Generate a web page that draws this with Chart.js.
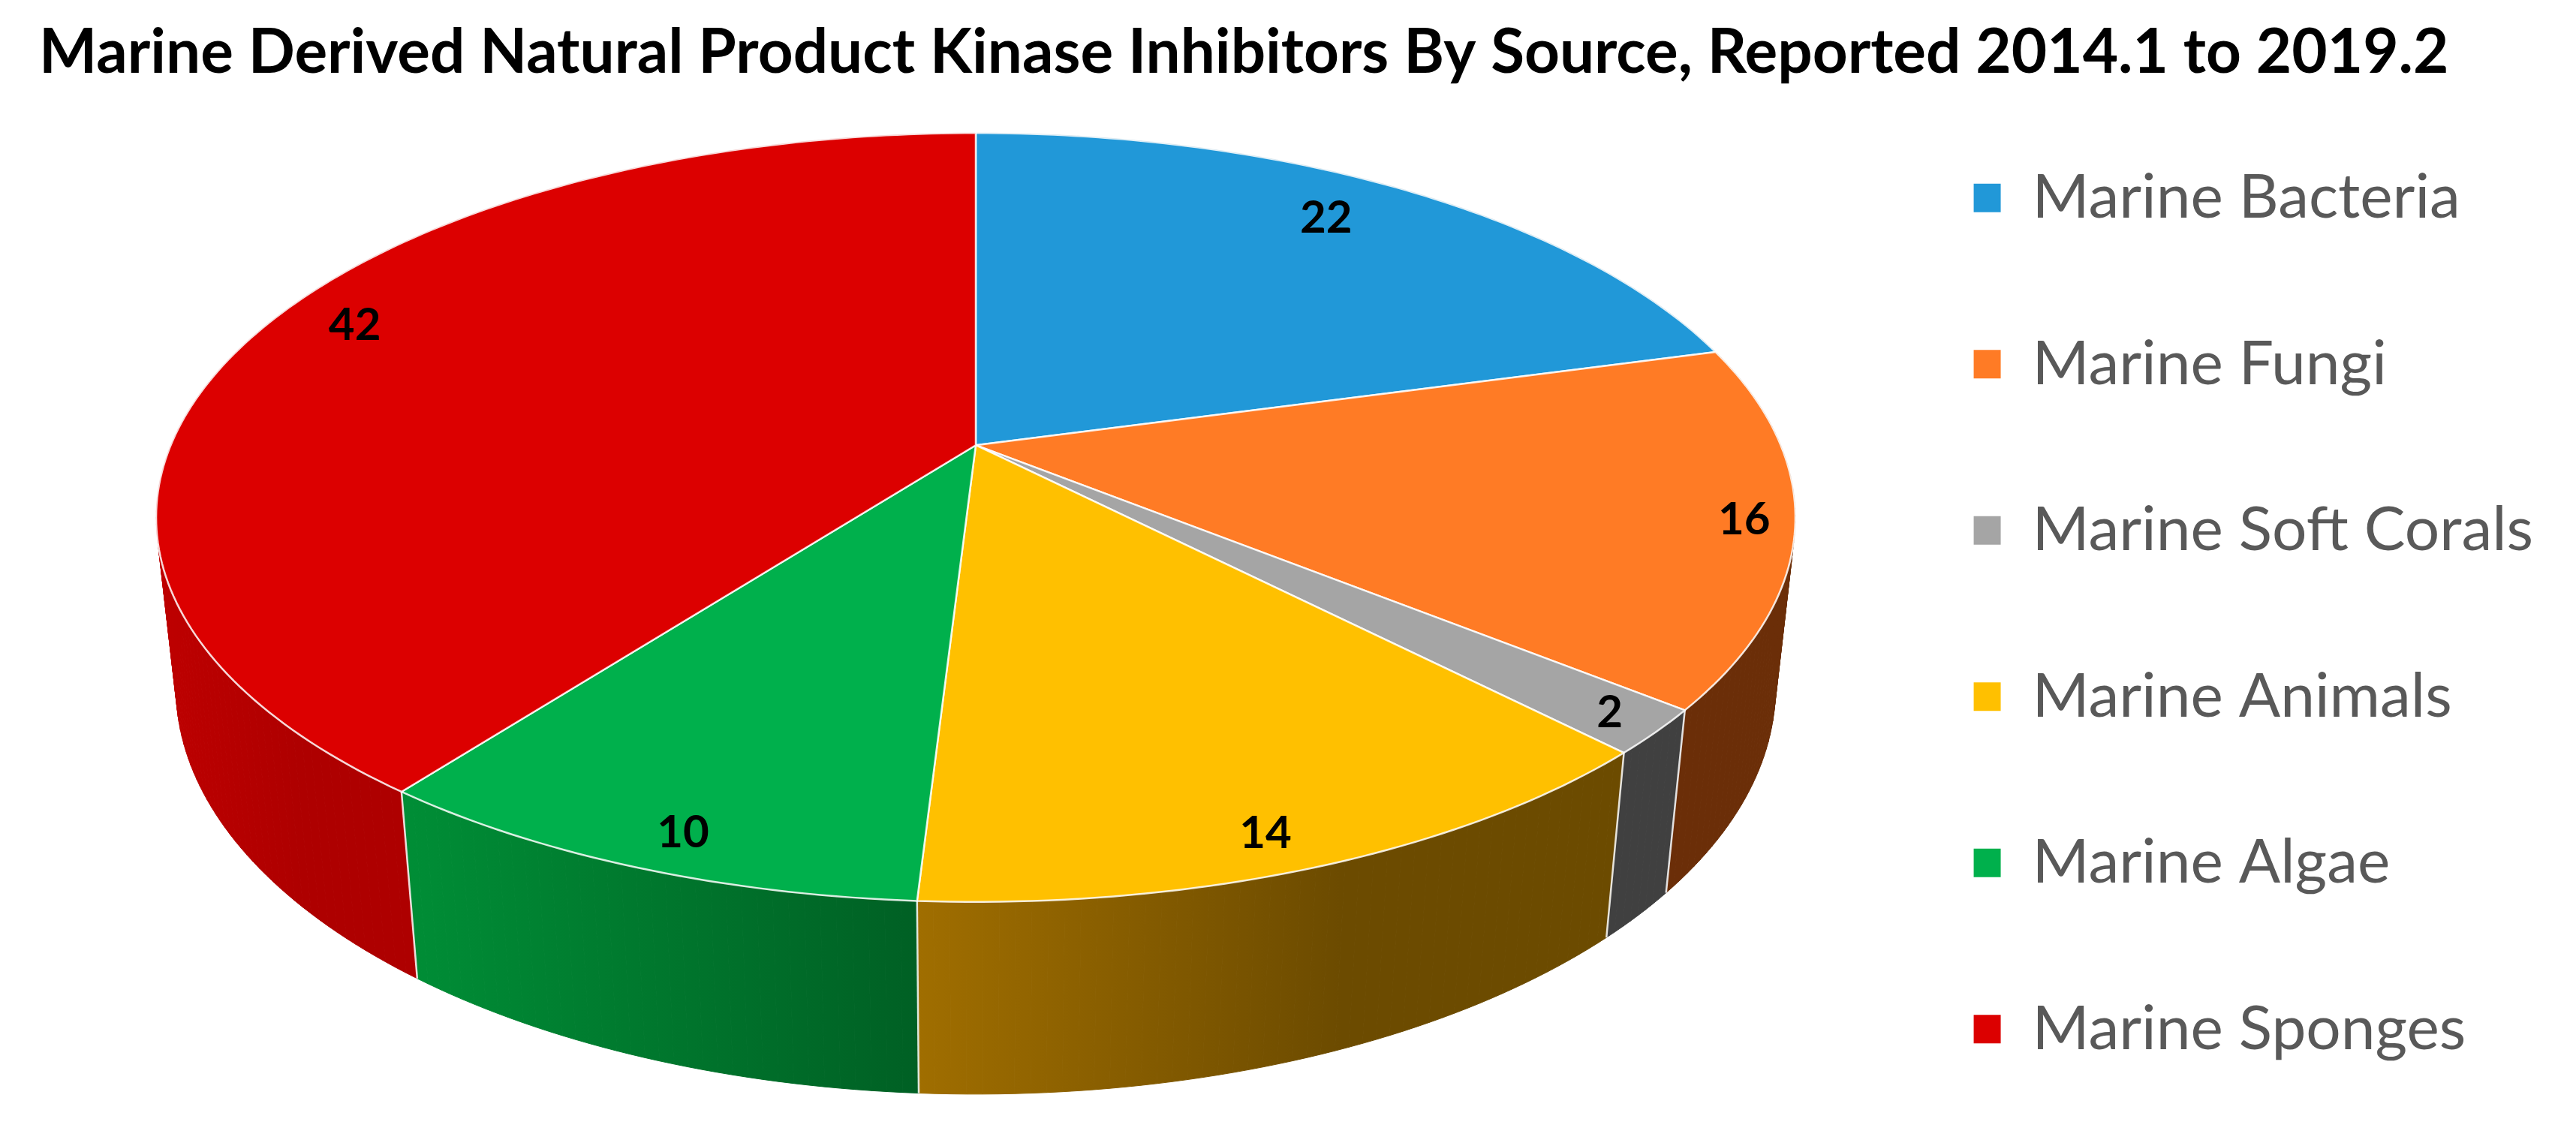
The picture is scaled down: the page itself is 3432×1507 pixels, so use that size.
<!DOCTYPE html>
<html>
<head>
<meta charset="utf-8">
<title>Marine Derived Natural Product Kinase Inhibitors</title>
<script src="https://cdn.jsdelivr.net/npm/chart.js@4"></script>
<style>
html, body { margin: 0; padding: 0; background: #fff; }
#wrap { width: 3432px; height: 1507px; }
</style>
</head>
<body>
<div id="wrap"><canvas id="pie-chart"></canvas></div>
<script>
var chartTitle = 'Marine Derived Natural Product Kinase Inhibitors By Source, Reported 2014.1 to 2019.2';
var sources = ['Marine Bacteria', 'Marine Fungi', 'Marine Soft Corals', 'Marine Animals', 'Marine Algae', 'Marine Sponges'];
var counts = [22, 16, 2, 14, 10, 42];
var topColors = ['#2198D8', '#FF7B25', '#A5A5A5', '#FFC000', '#00B04C', '#DC0000'];
// left and right colour of the outer wall of each slice, and where the fade stops
var wallColors = [
	['#14597f', '#14597f', 1],
	['#6B2E08', '#6B2E08', 1],
	['#404040', '#404040', 1],
	['#A06E00', '#6C4B00', 0.6],
	['#008E36', '#006024', 1],
	['#BE0000', '#AE0000', 0.6]
];
// where each value label sits on its slice
var labelRadius = [0.85, 0.94, 0.94, 0.925, 0.925, 0.89];
var labelTurn = [-2, 0, 0, 1.4, -1.2, 4];

// perspective of the tilted disc, h=0 top face, h=1 bottom face
var view = { cx: 1300, b: 593.2, a: 382.6, k: 1072.5, c: -0.188, d: 0.024, e: 243 };
var legendDrop = 64;

function project(t, r, h) {
	var u = r * Math.cos(t), v = r * Math.sin(t);
	var w = 1 + view.c * v + view.d * h;
	return {
		x: view.cx + view.k * u / w,
		y: (view.a * v + view.b + view.e * h) / w
	};
}

function stepsFor(arc) {
	return Math.max(8, Math.ceil((arc.endAngle - arc.startAngle) * 60));
}

function wallGradient(ctx, arc, colors) {
	var n = stepsFor(arc), left = Infinity, right = -Infinity;
	for (var i = 0; i <= n; i++) {
		var t = arc.startAngle + (arc.endAngle - arc.startAngle) * i / n;
		if (Math.sin(t) < 0) continue; // back of the disc is hidden
		var p = project(t, 1, 0);
		left = Math.min(left, p.x);
		right = Math.max(right, p.x);
	}
	if (left === Infinity) return colors[0];
	var grad = ctx.createLinearGradient(left, 0, right, 0);
	grad.addColorStop(0, colors[0]);
	grad.addColorStop(colors[2], colors[1]);
	return grad;
}

function drawWall(ctx, arc, colors) {
	var n = stepsFor(arc), grad = wallGradient(ctx, arc, colors);
	ctx.fillStyle = grad;
	ctx.strokeStyle = grad;
	ctx.lineWidth = 1;
	// thin strips, so the outline also follows the tangent at the disc's sides
	for (var i = 0; i < n; i++) {
		var t0 = arc.startAngle + (arc.endAngle - arc.startAngle) * i / n;
		var t1 = arc.startAngle + (arc.endAngle - arc.startAngle) * (i + 1) / n;
		var a = project(t0, 1, 0), b = project(t1, 1, 0), c = project(t1, 1, 1), d = project(t0, 1, 1);
		ctx.beginPath();
		ctx.moveTo(a.x, a.y);
		ctx.lineTo(b.x, b.y);
		ctx.lineTo(c.x, c.y);
		ctx.lineTo(d.x, d.y);
		ctx.closePath();
		ctx.fill();
		ctx.stroke();
	}
}

function wallEdge(ctx, t) {
	var a = project(t, 1, 0), b = project(t, 1, 1);
	ctx.beginPath();
	ctx.moveTo(a.x, a.y);
	ctx.lineTo(b.x, b.y);
	ctx.stroke();
}

var pie3d = {
	id: 'pie3d',
	afterLayout: function(chart) {
		chart.legend.top += legendDrop;
		chart.legend.bottom += legendDrop;
	},
	beforeDatasetsDraw: function(chart) {
		var ctx = chart.ctx;
		var arcs = chart.getDatasetMeta(0).data;
		ctx.save();
		ctx.lineJoin = 'round';

		// outer walls first, the top face covers the back of them
		arcs.forEach(function(arc, i) {
			drawWall(ctx, arc, wallColors[i]);
		});
		ctx.strokeStyle = 'rgba(255,255,255,0.85)';
		ctx.lineWidth = 2.5;
		arcs.forEach(function(arc) {
			wallEdge(ctx, arc.startAngle);
		});

		// top face
		var apex = project(0, 0, 0);
		arcs.forEach(function(arc, i) {
			var n = stepsFor(arc);
			ctx.beginPath();
			ctx.moveTo(apex.x, apex.y);
			for (var s = 0; s <= n; s++) {
				var p = project(arc.startAngle + (arc.endAngle - arc.startAngle) * s / n, 1, 0);
				ctx.lineTo(p.x, p.y);
			}
			ctx.closePath();
			ctx.fillStyle = topColors[i];
			ctx.fill();
			ctx.stroke();
		});

		// value labels
		ctx.fillStyle = '#000';
		ctx.font = 'bold 60px Lato';
		ctx.textAlign = 'center';
		ctx.textBaseline = 'middle';
		arcs.forEach(function(arc, i) {
			var mid = (arc.startAngle + arc.endAngle) / 2 + labelTurn[i] * Math.PI / 180;
			var p = project(mid, labelRadius[i], 0);
			ctx.fillText(String(counts[i]), p.x, p.y);
		});
		ctx.restore();
		return false; // flat arcs are replaced by the drawing above
	}
};

new Chart(document.getElementById('pie-chart'), {
	type: 'pie',
	plugins: [pie3d],
	data: {
		labels: sources,
		datasets: [{
			label: 'Kinase inhibitors',
			data: counts,
			backgroundColor: topColors,
			borderColor: '#fff'
		}]
	},
	options: {
		responsive: true,
		maintainAspectRatio: false,
		animation: false,
		layout: { padding: { right: 47, top: 0, left: 52 } },
		plugins: {
			tooltip: { enabled: false },
			title: {
				display: true,
				text: chartTitle,
				align: 'start',
				color: '#000',
				font: { family: 'Lato', size: 81.8, weight: 'bold' },
				padding: { top: 22, bottom: 10 }
			},
			legend: {
				position: 'right',
				labels: {
					color: '#595959',
					font: { family: 'Lato', size: 82 },
					boxWidth: 38,
					boxHeight: 40,
					padding: 139.5
				}
			}
		}
	}
});
</script>
</body>
</html>
